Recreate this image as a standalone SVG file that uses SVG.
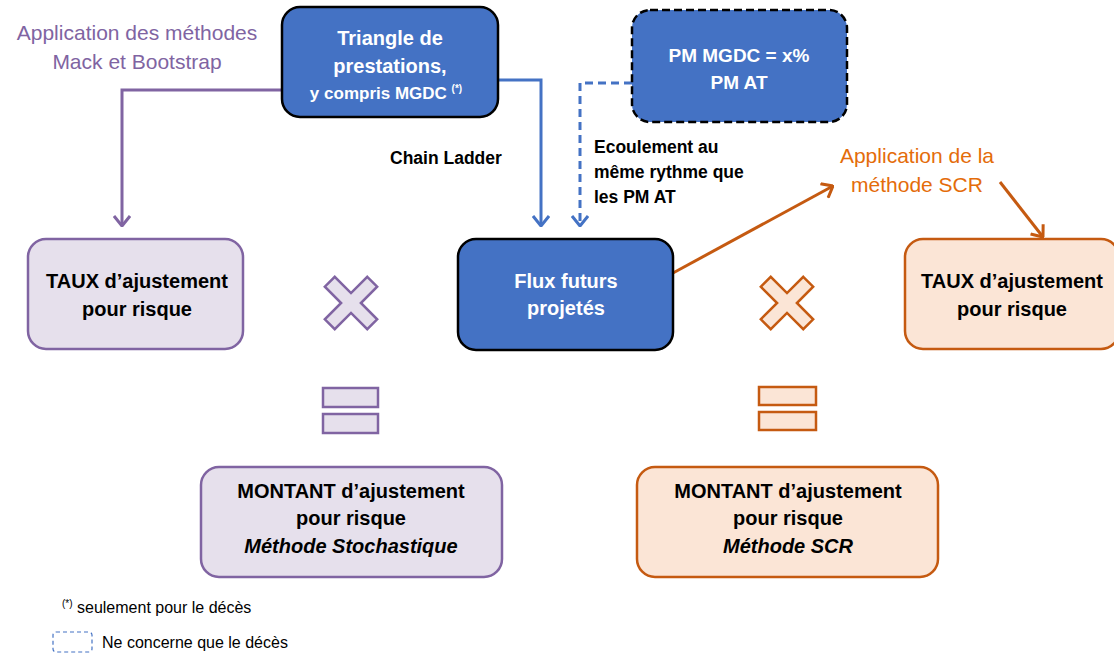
<svg xmlns="http://www.w3.org/2000/svg" width="1114" height="657" viewBox="0 0 1114 657">
  <style>
    text { font-family: "Liberation Sans", Arial, sans-serif; }
    .box-blue { fill: #4472C4; stroke: #000; stroke-width: 2.5; }
    .box-dash { fill: #4472C4; stroke: #000; stroke-width: 2.5; stroke-dasharray: 8 4; }
    .box-purple { fill: #E6E0EC; stroke: #8064A2; stroke-width: 2.5; }
    .box-orange { fill: #FBE5D6; stroke: #C55A11; stroke-width: 2.5; }
    .w { fill: #fff; font-weight: bold; text-anchor: middle; }
    .k { fill: #000; font-weight: bold; text-anchor: middle; font-size: 20px; }
    .lbl { fill: #000; font-weight: bold; font-size: 17.5px; }
    .purple-txt { fill: #8064A2; font-size: 21px; text-anchor: middle; }
    .orange-txt { fill: #E46C0A; font-size: 21px; text-anchor: middle; }
    .c-purple { fill: none; stroke: #8064A2; stroke-width: 3; }
    .c-blue { fill: none; stroke: #4472C4; stroke-width: 3; }
    .c-blue-dash { fill: none; stroke: #4472C4; stroke-width: 3; stroke-dasharray: 8 5; }
    .c-orange { fill: none; stroke: #C55A11; stroke-width: 3; }
    .sym-purple { fill: #E6E0EC; stroke: #8064A2; stroke-width: 2.5; }
    .sym-orange { fill: #FBE5D6; stroke: #C55A11; stroke-width: 2.5; }
    .legend { fill: #000; font-size: 16px; }
  </style>
  <defs>
    <marker id="arr-purple" viewBox="0 0 12 18" refX="11" refY="9" markerWidth="12" markerHeight="18" markerUnits="userSpaceOnUse" orient="auto">
      <path d="M1,1 L11,9 L1,17" fill="none" stroke="#8064A2" stroke-width="3"/>
    </marker>
    <marker id="arr-blue" viewBox="0 0 12 18" refX="11" refY="9" markerWidth="12" markerHeight="18" markerUnits="userSpaceOnUse" orient="auto">
      <path d="M1,1 L11,9 L1,17" fill="none" stroke="#4472C4" stroke-width="3"/>
    </marker>
    <marker id="arr-orange" viewBox="0 0 12 18" refX="11" refY="9" markerWidth="12" markerHeight="18" markerUnits="userSpaceOnUse" orient="auto">
      <path d="M1,1 L11,9 L1,17" fill="none" stroke="#C55A11" stroke-width="3"/>
    </marker>
    <!-- multiplication sign: a plus rotated by 45 degrees -->
    <polygon id="times" points="-7,-30 7,-30 7,-7 30,-7 30,7 7,7 7,30 -7,30 -7,7 -30,7 -30,-7 -7,-7" transform="rotate(45)"/>
  </defs>

  <!-- connectors -->
  <g id="connectors">
    <path class="c-purple" d="M282,90 H122 V226" marker-end="url(#arr-purple)"/>
    <path class="c-blue" d="M498,80 H541 V226" marker-end="url(#arr-blue)"/>
    <path class="c-blue-dash" d="M632,83 H580 V226" marker-end="url(#arr-blue)"/>
    <path class="c-orange" d="M673,273 L833,186" marker-end="url(#arr-orange)"/>
    <path class="c-orange" d="M1000,182 L1043,237" marker-end="url(#arr-orange)"/>
  </g>

  <!-- free labels -->
  <g id="labels">
    <text class="purple-txt" x="137" y="40">Application des méthodes</text>
    <text class="purple-txt" x="137" y="69">Mack et Bootstrap</text>
    <text class="lbl" x="390" y="164">Chain Ladder</text>
    <text class="lbl" x="594" y="153">Ecoulement au</text>
    <text class="lbl" x="594" y="178">même rythme que</text>
    <text class="lbl" x="594" y="203">les PM AT</text>
    <text class="orange-txt" x="917" y="163">Application de la</text>
    <text class="orange-txt" x="917" y="192">méthode SCR</text>
  </g>

  <g id="node-triangle">
    <rect class="box-blue" x="282" y="7" width="216" height="110" rx="18"/>
    <text class="w" x="390" y="45" font-size="20">Triangle de</text>
    <text class="w" x="390" y="73" font-size="20">prestations,</text>
    <text class="w" x="386" y="99" font-size="17">y compris MGDC <tspan font-size="10" dy="-7">(*)</tspan></text>
  </g>

  <g id="node-pm-mgdc">
    <rect class="box-dash" x="632" y="10" width="215" height="112" rx="18"/>
    <text class="w" x="739" y="62" font-size="19">PM MGDC = x%</text>
    <text class="w" x="739" y="89" font-size="19">PM AT</text>
  </g>

  <g id="node-flux">
    <rect class="box-blue" x="458" y="239" width="215" height="111" rx="18"/>
    <text class="w" x="566" y="288" font-size="20">Flux futurs</text>
    <text class="w" x="566" y="315" font-size="20">projetés</text>
  </g>

  <g id="node-taux-left">
    <rect class="box-purple" x="28" y="239" width="215" height="110" rx="18"/>
    <text class="k" x="137" y="288">TAUX d’ajustement</text>
    <text class="k" x="137" y="316">pour risque</text>
  </g>

  <g id="node-taux-right">
    <rect class="box-orange" x="905" y="239" width="214" height="110" rx="18"/>
    <text class="k" x="1012" y="288">TAUX d’ajustement</text>
    <text class="k" x="1012" y="316">pour risque</text>
  </g>

  <g id="symbols-purple">
    <use href="#times" class="sym-purple" transform="translate(351,303)"/>
    <rect class="sym-purple" x="323" y="388" width="55" height="19"/>
    <rect class="sym-purple" x="323" y="414" width="55" height="19"/>
  </g>

  <g id="symbols-orange">
    <use href="#times" class="sym-orange" transform="translate(787,303)"/>
    <rect class="sym-orange" x="759" y="387" width="57" height="18"/>
    <rect class="sym-orange" x="759" y="412" width="57" height="18"/>
  </g>

  <g id="node-montant-left">
    <rect class="box-purple" x="201" y="467" width="301" height="110" rx="18"/>
    <text class="k" x="351" y="498">MONTANT d’ajustement</text>
    <text class="k" x="351" y="525">pour risque</text>
    <text class="k" x="351" y="553" font-style="italic">Méthode Stochastique</text>
  </g>

  <g id="node-montant-right">
    <rect class="box-orange" x="637" y="467" width="301" height="110" rx="18"/>
    <text class="k" x="788" y="498">MONTANT d’ajustement</text>
    <text class="k" x="788" y="525">pour risque</text>
    <text class="k" x="788" y="553" font-style="italic">Méthode SCR</text>
  </g>

  <g id="legend">
    <text class="legend" x="62" y="613"><tspan font-size="10" dy="-6">(*)</tspan><tspan dy="6"> seulement pour le décès</tspan></text>
    <rect x="53" y="632" width="39" height="20" rx="3" fill="none" stroke="#4472C4" stroke-width="1.2" stroke-dasharray="4 3"/>
    <text class="legend" x="102" y="648">Ne concerne que le décès</text>
  </g>
</svg>
